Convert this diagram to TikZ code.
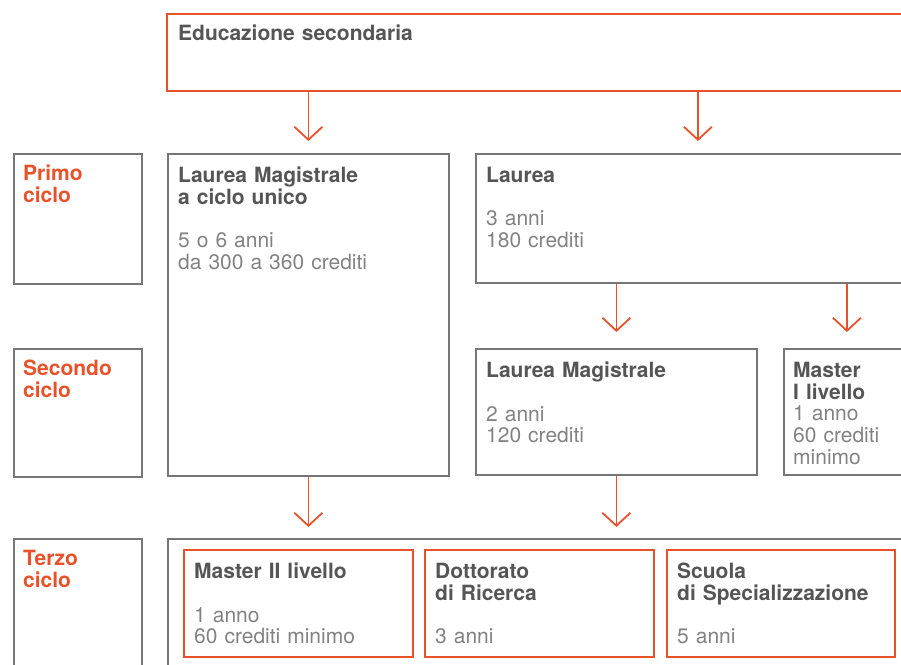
\documentclass[tikz,border=0pt]{standalone}
\usepackage{fontspec}
\setmainfont{TeX Gyre Heros}
\usetikzlibrary{arrows.meta}

\newcommand{\hd}{\bfseries\color{titlegrey}}
\newcommand{\dt}{\mdseries\color{textgrey}}

\begin{document}
\begin{tikzpicture}[x=1pt, y=-1pt,
  box/.style={draw=linegrey, line width=1.8pt, anchor=north west, inner sep=0pt},
  redbox/.style={box, draw=ored},
  txt/.style={anchor=north west, inner sep=0pt, align=left, text width=260pt, font=\fontsize{21}{21.7}\selectfont},
  arr/.style={draw=ored, line width=1.8pt, -{Straight Barb[length=13pt, width=28pt]}, shorten >=12pt}]

\definecolor{ored}{RGB}{232,82,42}
\definecolor{linegrey}{RGB}{118,118,118}
\definecolor{titlegrey}{RGB}{85,85,85}
\definecolor{textgrey}{RGB}{130,130,130}

\useasboundingbox (0,0) rectangle (901,664);
\clip (0,0) rectangle (901,664);

% cycle labels on the left
\foreach \n/\y/\h/\t in {primo/153/130/Primo, secondo/348/128/Secondo, terzo/538/160/Terzo} {
  \node[box, minimum width=128pt, minimum height=\h pt] (\n) at (13,\y) {};
  \node[txt, text width=110pt, text=ored, font=\fontsize{21}{21.7}\selectfont\bfseries] (\n-t) at ([xshift=10pt, yshift=-12pt]\n.north west) {\t\\ciclo};
}

\node[redbox, minimum width=760pt, minimum height=77pt] (edu) at (166,13) {};
\node[txt] (edu-t) at ([xshift=12pt, yshift=-12pt]edu.north west) {\hd Educazione secondaria};

% primo / secondo ciclo
\node[box, minimum width=281pt, minimum height=322pt] (lmcu) at (167,153) {};
\node[txt] (lmcu-t) at ([xshift=11pt, yshift=-14pt]lmcu.north west)
  {\hd Laurea Magistrale\\a ciclo unico\\[21.7pt]\dt 5 o 6 anni\\da 300 a 360 crediti};

\node[box, minimum width=444pt, minimum height=129pt] (laurea) at (475,153) {};
\node[txt] (laurea-t) at ([xshift=11pt, yshift=-14pt]laurea.north west)
  {\hd Laurea\\[21.7pt]\dt 3 anni\\180 crediti};

\node[box, minimum width=281pt, minimum height=126pt] (lm) at (475,348) {};
\node[txt] (lm-t) at ([xshift=11pt, yshift=-14pt]lm.north west)
  {\hd Laurea Magistrale\\[21.7pt]\dt 2 anni\\120 crediti};

\node[box, minimum width=126pt, minimum height=126pt] (m1) at (783,348) {};
\node[txt, text width=110pt] (m1-t) at ([xshift=10pt, yshift=-14pt]m1.north west)
  {\hd Master\\I livello\\\dt 1 anno\\60 crediti\\minimo};

% terzo ciclo
\node[box, minimum width=760pt, minimum height=160pt] (tc) at (167,538) {};

\node[redbox, minimum width=229pt, minimum height=107pt] (m2) at (183,549) {};
\node[txt, text width=215pt] (m2-t) at ([xshift=11pt, yshift=-14pt]m2.north west)
  {\hd Master II livello\\[21.7pt]\dt 1 anno\\60 crediti minimo};

\node[redbox, minimum width=229pt, minimum height=107pt] (dott) at (424,549) {};
\node[txt, text width=215pt] (dott-t) at ([xshift=11pt, yshift=-14pt]dott.north west)
  {\hd Dottorato\\di Ricerca\\[21.7pt]\dt 3 anni};

\node[redbox, minimum width=228pt, minimum height=107pt] (scuola) at (666,549) {};
\node[txt, text width=215pt] (scuola-t) at ([xshift=11pt, yshift=-14pt]scuola.north west)
  {\hd Scuola\\di Specializzazione\\[21.7pt]\dt 5 anni};

% arrows
\draw[arr] (edu.south -| lmcu.north) -- (lmcu.north);
\draw[arr] (edu.south -| laurea.north) -- (laurea.north);
\draw[arr, shorten >=16pt] (laurea.south -| lm.north) -- (lm.north);
\draw[arr, shorten >=16pt] (laurea.south -| m1.north) -- (m1.north);
\draw[arr, shorten >=11pt] (lmcu.south) -- (lmcu.south |- tc.north);
\draw[arr, shorten >=11pt] (lm.south) -- (lm.south |- tc.north);

\end{tikzpicture}
\end{document}
